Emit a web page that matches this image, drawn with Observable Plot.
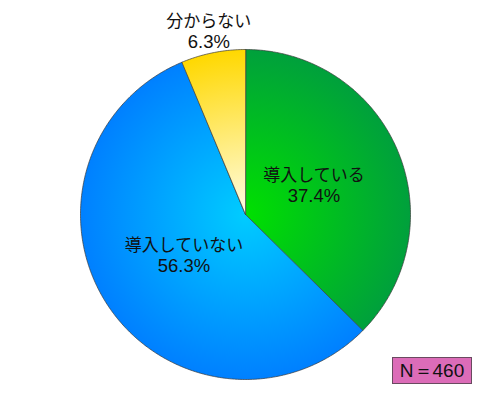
<!DOCTYPE html>
<html>
<head>
<meta charset="utf-8">
<script src="https://cdn.jsdelivr.net/npm/d3@7"></script>
<script src="https://cdn.jsdelivr.net/npm/@observablehq/plot@0.6"></script>
<style>
  html, body { margin: 0; padding: 0; background: #fff; }
  #wrap { position: relative; width: 490px; height: 400px; }
  #nbox {
    position: absolute; left: 392px; top: 357px; width: 78px; height: 25px;
    background: #dc6cb8; border: 1px solid #6a4a60;
    font: 19px "Liberation Sans", "DejaVu Sans", sans-serif; color: #111;
    display: flex; align-items: center; justify-content: center; line-height: 1;
  }
</style>
</head>
<body>
<div id="wrap"></div>
<script>
// ---- data ----
const categories = ["導入している", "導入していない", "分からない"];
const values = [37.4, 56.3, 6.3];
const sampleNote = "N＝460";
// gradient colours (inner, outer) per category
const innerColors = ["#00e000", "#00ccff", "#fffde6"];
const outerColors = ["#00a03c", "#0080ff", "#ffd800"];

// ---- layout ----
const W = 490, H = 400, R = 165, CX = 245, CY = 214;

const total = d3.sum(values);
const pie = d3.pie().sort(null).value(d => d.value)(categories.map((c, i) => ({key: c, value: values[i], i})));

// polygon points for each slice (unit radius, angle clockwise from top)
const pts = [];
for (const p of pie) {
  pts.push({key: p.data.key, a: 0, r: 0});
  const n = Math.max(2, Math.ceil((p.endAngle - p.startAngle) / 0.01));
  for (let k = 0; k <= n; k++) {
    const a = p.startAngle + (p.endAngle - p.startAngle) * k / n;
    pts.push({key: p.data.key, a, r: 1});
  }
}
const labels = pie.map(p => {
  const mid = (p.startAngle + p.endAngle) / 2;
  const share = p.data.value / total;
  const rr = share < 0.1 ? 1.13 : 0.45;
  return {name: p.data.key, pct: `${p.data.value.toFixed(1)}%`, x: rr * Math.sin(mid), y: rr * Math.cos(mid)};
});

const chart = Plot.plot({
  width: W, height: H,
  margin: 0,
  x: {domain: [-CX / R, (W - CX) / R], axis: null},
  y: {domain: [-(H - CY) / R, CY / R], axis: null},
  color: {type: "ordinal", domain: categories, range: categories.map((c, i) => `url(#grad${i})`)},
  style: {background: "#fff", overflow: "visible"},
  marks: [
    Plot.line(pts, {
      x: d => d.r * Math.sin(d.a),
      y: d => d.r * Math.cos(d.a),
      z: "key",
      fill: "key",
      stroke: "#3a3a3a",
      strokeWidth: 0.7,
      curve: "linear-closed"
    }),
    Plot.text(labels, {
      x: "x", y: "y", text: "name",
      dy: -10, lineAnchor: "middle",
      fontSize: 17,
      fill: "#111",
      fontFamily: "'Noto Sans CJK JP', sans-serif"
    }),
    Plot.text(labels, {
      x: "x", y: "y", text: "pct",
      dy: 10, lineAnchor: "middle",
      fontSize: 18.5,
      fill: "#111",
      fontFamily: "'Liberation Sans', Arial, sans-serif"
    })
  ]
});

// radial gradients centred on the pie centre
const sx = chart.scale("x"), sy = chart.scale("y");
const px = sx.apply(0), py = sy.apply(0), pr = sx.apply(1) - sx.apply(0);
const ns = "http://www.w3.org/2000/svg";
const svg = chart.tagName.toLowerCase() === "svg" ? chart : chart.querySelector("svg");
const defs = document.createElementNS(ns, "defs");
categories.forEach((c, i) => {
  const g = document.createElementNS(ns, "radialGradient");
  g.setAttribute("id", `grad${i}`);
  g.setAttribute("gradientUnits", "userSpaceOnUse");
  g.setAttribute("cx", px); g.setAttribute("cy", py); g.setAttribute("r", pr);
  const s0 = document.createElementNS(ns, "stop");
  s0.setAttribute("offset", "0"); s0.setAttribute("stop-color", innerColors[i]);
  const s1 = document.createElementNS(ns, "stop");
  s1.setAttribute("offset", "1"); s1.setAttribute("stop-color", outerColors[i]);
  g.appendChild(s0); g.appendChild(s1);
  defs.appendChild(g);
});
svg.insertBefore(defs, svg.firstChild);

const wrap = document.getElementById("wrap");
wrap.appendChild(chart);
const box = document.createElement("div");
box.id = "nbox";
box.textContent = sampleNote;
wrap.appendChild(box);
</script>
</body>
</html>
